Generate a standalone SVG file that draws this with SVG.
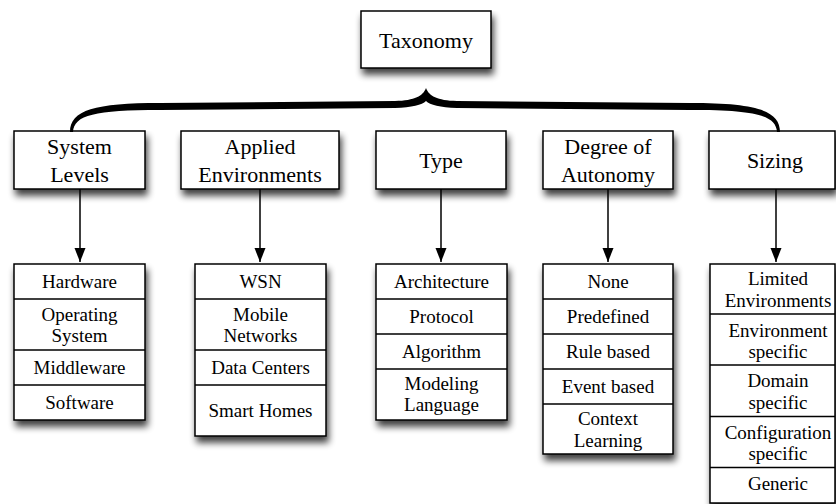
<svg xmlns="http://www.w3.org/2000/svg" width="836" height="504" viewBox="0 0 836 504">
<defs>
<filter id="sh" x="-10%" y="-10%" width="125%" height="140%">
<feGaussianBlur in="SourceAlpha" stdDeviation="3.5"/>
<feOffset dx="2" dy="6" result="o"/>
<feComponentTransfer><feFuncA type="linear" slope="0.75"/></feComponentTransfer>
<feMerge><feMergeNode/><feMergeNode in="SourceGraphic"/></feMerge>
</filter>
<marker id="ah" markerUnits="userSpaceOnUse" markerWidth="14" markerHeight="12" refX="14" refY="6" orient="auto">
<path d="M0,0.5 L14,6 L0,11.5 z" fill="#000"/>
</marker>
</defs>
<rect width="836" height="504" fill="#fff"/>

<g id="nodes" stroke="#000" stroke-width="1.5" fill="#fff">
<rect id="taxonomy" x="361" y="11" width="130" height="57" filter="url(#sh)"/>
<rect id="system-levels" x="14" y="131" width="131" height="58" filter="url(#sh)"/>
<rect id="applied-environments" x="181" y="131" width="158" height="58" filter="url(#sh)"/>
<rect id="type" x="376" y="131" width="130" height="58" filter="url(#sh)"/>
<rect id="degree-of-autonomy" x="543" y="131" width="130" height="58" filter="url(#sh)"/>
<rect id="sizing" x="709" y="131" width="126" height="58" filter="url(#sh)"/>
<rect id="system-levels-list" x="14" y="264" width="131" height="156" filter="url(#sh)"/>
<rect id="applied-environments-list" x="195" y="264" width="131" height="172" filter="url(#sh)"/>
<rect id="type-list" x="376" y="264" width="131" height="156" filter="url(#sh)"/>
<rect id="degree-of-autonomy-list" x="543" y="264" width="130" height="190" filter="url(#sh)"/>
<rect id="sizing-list" x="710" y="264" width="125" height="239" filter="url(#sh)"/>
<path fill="none" d="M14,299H145M14,350H145M14,385H145 M195,299H326M195,350H326M195,385H326 M376,299H507M376,334H507M376,369H507 M543,299H673M543,334H673M543,369H673M543,404H673 M710,314H835M710,365H835M710,416.5H835M710,467.5H835"/>
</g>

<g id="connectors" stroke="#000" stroke-width="1.5" fill="none">
<path d="M70,132 C70,110 95,103 160,103 L395,101 C415,100.5 423,96 426,88 C429,96 437,100.5 457,101 L690,103 C755,103 780,110 780,132 L777,132 C776,115 755,110 690,110 L457,108 C440,107.5 430,105 426,101 C422,105 412,107.5 395,108 L160,110 C95,110 74,115 73,132 Z" fill="#000" stroke="none"/>
<line x1="80" y1="189" x2="80" y2="262" marker-end="url(#ah)"/>
<line x1="260" y1="189" x2="260" y2="262" marker-end="url(#ah)"/>
<line x1="441" y1="189" x2="441" y2="262" marker-end="url(#ah)"/>
<line x1="608" y1="189" x2="608" y2="262" marker-end="url(#ah)"/>
<line x1="776" y1="189" x2="776" y2="262" marker-end="url(#ah)"/>
</g>

<g id="labels" text-anchor="middle">
<text x="426" y="48" font-family="Times New Roman, serif" font-size="22">Taxonomy</text>
<text x="79.5" y="154" font-family="Times New Roman, serif" font-size="22">System</text>
<text x="79.5" y="182" font-family="Times New Roman, serif" font-size="22">Levels</text>
<text x="260" y="154" font-family="Times New Roman, serif" font-size="22">Applied</text>
<text x="260" y="182" font-family="Times New Roman, serif" font-size="22">Environments</text>
<text x="441" y="168" font-family="Times New Roman, serif" font-size="22">Type</text>
<text x="608" y="153.5" font-family="Times New Roman, serif" font-size="22">Degree of</text>
<text x="608" y="181.5" font-family="Times New Roman, serif" font-size="22">Autonomy</text>
<text x="775" y="168" font-family="Times New Roman, serif" font-size="22">Sizing</text>
<text x="79.5" y="288" font-family="Times New Roman, serif" font-size="19">Hardware</text>
<text x="79.5" y="321" font-family="Times New Roman, serif" font-size="19">Operating</text>
<text x="79.5" y="342" font-family="Times New Roman, serif" font-size="19">System</text>
<text x="79.5" y="373.5" font-family="Times New Roman, serif" font-size="19">Middleware</text>
<text x="79.5" y="408.5" font-family="Times New Roman, serif" font-size="19">Software</text>
<text x="260.5" y="288" font-family="Times New Roman, serif" font-size="19">WSN</text>
<text x="260.5" y="320.5" font-family="Times New Roman, serif" font-size="19">Mobile</text>
<text x="260.5" y="341.5" font-family="Times New Roman, serif" font-size="19">Networks</text>
<text x="260.5" y="373.5" font-family="Times New Roman, serif" font-size="19">Data Centers</text>
<text x="260.5" y="417" font-family="Times New Roman, serif" font-size="19">Smart Homes</text>
<text x="441.5" y="288" font-family="Times New Roman, serif" font-size="19">Architecture</text>
<text x="441.5" y="323" font-family="Times New Roman, serif" font-size="19">Protocol</text>
<text x="441.5" y="358" font-family="Times New Roman, serif" font-size="19">Algorithm</text>
<text x="441.5" y="389.5" font-family="Times New Roman, serif" font-size="19">Modeling</text>
<text x="441.5" y="411" font-family="Times New Roman, serif" font-size="19">Language</text>
<text x="608" y="287.5" font-family="Times New Roman, serif" font-size="19">None</text>
<text x="608" y="322.5" font-family="Times New Roman, serif" font-size="19">Predefined</text>
<text x="608" y="357.5" font-family="Times New Roman, serif" font-size="19">Rule based</text>
<text x="608" y="392.5" font-family="Times New Roman, serif" font-size="19">Event based</text>
<text x="608" y="425" font-family="Times New Roman, serif" font-size="19">Context</text>
<text x="608" y="446.5" font-family="Times New Roman, serif" font-size="19">Learning</text>
<text x="778" y="284.5" font-family="Times New Roman, serif" font-size="19">Limited</text>
<text x="778" y="306.5" font-family="Times New Roman, serif" font-size="19">Environments</text>
<text x="778" y="336.5" font-family="Times New Roman, serif" font-size="19">Environment</text>
<text x="778" y="358" font-family="Times New Roman, serif" font-size="19">specific</text>
<text x="778" y="387" font-family="Times New Roman, serif" font-size="19">Domain</text>
<text x="778" y="408.5" font-family="Times New Roman, serif" font-size="19">specific</text>
<text x="778" y="438.5" font-family="Times New Roman, serif" font-size="19">Configuration</text>
<text x="778" y="460" font-family="Times New Roman, serif" font-size="19">specific</text>
<text x="778" y="490" font-family="Times New Roman, serif" font-size="19">Generic</text>
</g>
</svg>
